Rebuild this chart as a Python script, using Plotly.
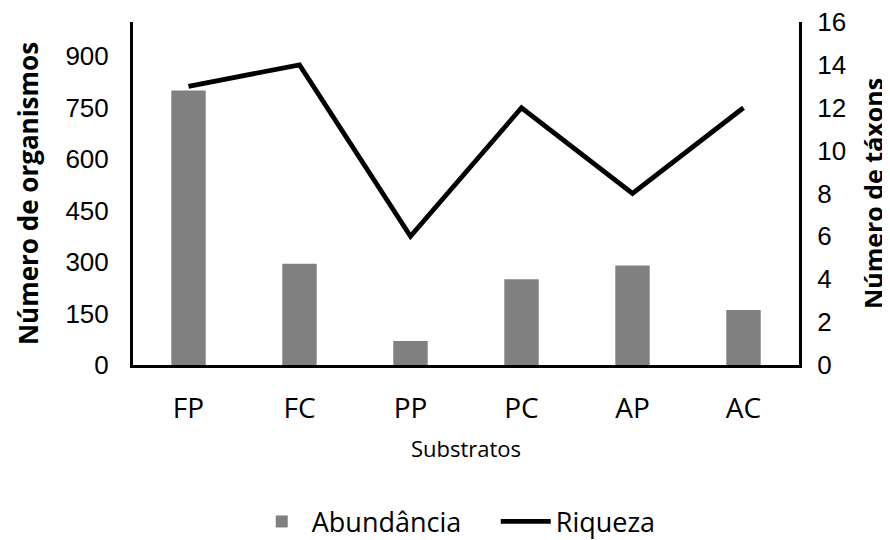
import plotly.graph_objects as go

categories = ["FP", "FC", "PP", "PC", "AP", "AC"]
abundancia = [800, 295, 70, 250, 290, 160]
riqueza = [13, 14, 6, 12, 8, 12]
left_ticks = [0, 150, 300, 450, 600, 750, 900]
right_ticks = [0, 2, 4, 6, 8, 10, 12, 14, 16]

fig = go.Figure()
fig.add_trace(go.Bar(x=categories, y=abundancia, name="Abundância",
                     marker=dict(color="#808080", line=dict(width=0))))
fig.add_trace(go.Scatter(x=categories, y=riqueza, name="Riqueza", yaxis="y2",
                         mode="lines", line=dict(color="black", width=4.8)))

fig.update_layout(
    width=882, height=532,
    margin=dict(l=125, r=91, t=14, b=175),
    plot_bgcolor="white", paper_bgcolor="white",
    bargap=0.69,
    showlegend=True,
    legend=dict(orientation="h", x=0.553, xref="container", xanchor="center",
                y=0.034, yref="container", yanchor="middle",
                font=dict(family="Open Sans", size=27, color="black"),
                itemwidth=50, entrywidth=179, traceorder="normal"),
    xaxis=dict(showline=True, linecolor="black", linewidth=3, automargin=False,
               ticks="outside", tickcolor="white", ticklen=16,
               tickfont=dict(family="Open Sans", size=28, color="black"),
               title=dict(text="Substratos", font=dict(family="Open Sans", size=22, color="black"),
                          standoff=18)),
    yaxis=dict(range=[0, 1000], tickvals=left_ticks, showgrid=False, zeroline=False,
               showline=True, linecolor="black", linewidth=3, automargin=False,
               ticks="outside", tickcolor="white", ticklen=16, ticklabeloverflow="allow",
               tickfont=dict(family="Liberation Sans", size=26, color="black"),
               title=dict(text="<b>Número de organismos</b>",
                          font=dict(family="Open Sans", size=26, color="black"), standoff=20)),
    yaxis2=dict(range=[0, 16], tickvals=right_ticks, overlaying="y", side="right",
                showgrid=False, zeroline=False, automargin=False,
                showline=True, linecolor="black", linewidth=3,
                ticks="outside", tickcolor="white", ticklen=10, ticklabeloverflow="allow",
                tickfont=dict(family="Liberation Sans", size=26, color="black"),
                title=dict(text="<b>Número de táxons</b>",
                           font=dict(family="Open Sans", size=25, color="black"), standoff=22)),
)

fig.write_html("out.html")
